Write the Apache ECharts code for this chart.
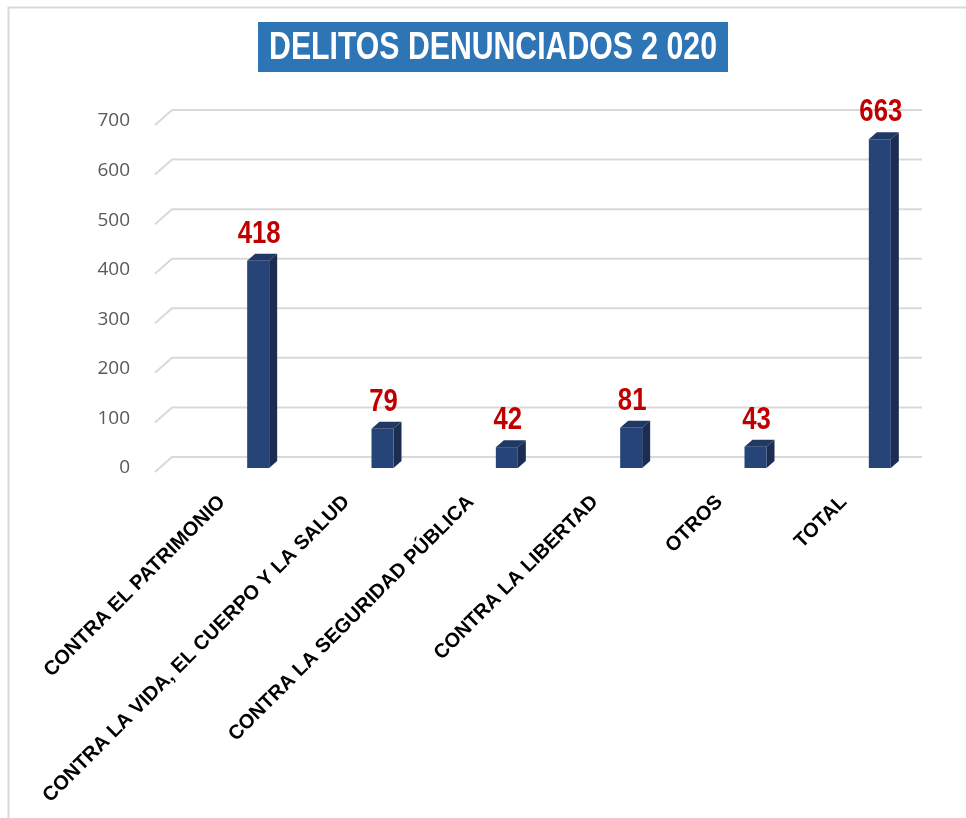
<!DOCTYPE html>
<html>
<head>
<meta charset="utf-8">
<title>Delitos denunciados 2 020</title>
<script src="https://cdn.jsdelivr.net/npm/echarts@6/dist/echarts.min.js"></script>
<style>
    html, body { margin: 0; padding: 0; background: #fff; }
    #chart { width: 966px; height: 818px; }
</style>
</head>
<body>
<div id="chart"></div>
<script>
var categories = [
    'CONTRA EL PATRIMONIO',
    'CONTRA LA VIDA, EL CUERPO Y LA SALUD',
    'CONTRA LA SEGURIDAD PÚBLICA',
    'CONTRA LA LIBERTAD',
    'OTROS',
    'TOTAL'
];
var values = [418, 79, 42, 81, 43, 663];
var yTicks = [0, 100, 200, 300, 400, 500, 600, 700];

var arial = '"Liberation Sans", Arial, sans-serif';

var chart = echarts.init(document.getElementById('chart'));

// 3d looking bar: front face, side face, top face + value on top
function renderBar(params, api) {
    var base = api.coord([api.value(0), 0]);
    var top = api.coord([api.value(0), api.value(1)]);
    var w = 22, dx = 8, dy = 7;
    var x0 = base[0] - w / 2, x1 = base[0] + w / 2;
    var yb = base[1], yt = top[1];
    return {
        type: 'group',
        children: [
            {
                type: 'polygon',
                shape: { points: [[x1, yt], [x1 + dx, yt - dy], [x1 + dx, yb - dy], [x1, yb]] },
                style: { fill: '#1b2d50' }
            },
            {
                type: 'polygon',
                shape: { points: [[x0, yt], [x0 + dx, yt - dy], [x1 + dx, yt - dy], [x1, yt]] },
                style: { fill: '#1f3864' }
            },
            {
                type: 'rect',
                shape: { x: x0, y: yt, width: w, height: yb - yt },
                style: { fill: '#264478' }
            },
            {
                // narrow bold look: squeeze the arial glyphs
                type: 'text',
                x: base[0] + 1,
                y: yt - dy - 4,
                scaleX: 0.83,
                style: {
                    text: String(api.value(1)),
                    textAlign: 'center',
                    textVerticalAlign: 'bottom',
                    fill: '#c00000',
                    font: 'bold 31px ' + arial
                }
            }
        ]
    };
}

// floor-like gridlines with the slanted left end
function renderGridLine(params, api) {
    var cs = params.coordSys;
    var y = api.coord([0, api.value(1)])[1];
    return {
        type: 'polyline',
        shape: { points: [[cs.x - 41, y + 4], [cs.x - 24, y - 11], [cs.x + cs.width - 20, y - 11]] },
        style: { stroke: '#d9d9d9', lineWidth: 2, fill: null }
    };
}

chart.setOption({
    animation: false,
    backgroundColor: '#fff',
    graphic: [
        {
            type: 'rect',
            left: 6,
            top: 5,
            shape: { width: 1000, height: 850 },
            style: { fill: null, stroke: '#d9d9d9', lineWidth: 2 },
            silent: true
        },
        {
            // title box
            type: 'group',
            left: 258,
            top: 22,
            children: [
                {
                    type: 'rect',
                    shape: { x: 0, y: 0, width: 470, height: 50 },
                    style: { fill: '#2e75b6' }
                },
                {
                    type: 'text',
                    x: 235,
                    y: 26,
                    scaleX: 0.775,
                    style: {
                        text: 'DELITOS DENUNCIADOS 2 020',
                        textAlign: 'center',
                        textVerticalAlign: 'middle',
                        fill: '#fff',
                        font: 'bold 39px ' + arial
                    }
                }
            ]
        }
    ],
    grid: [
        { left: 196, right: 24, top: 121, bottom: 350 },
        { left: 160, right: 60, top: 121, bottom: 350 }
    ],
    xAxis: [
        {
            type: 'category',
            data: categories,
            axisLine: { show: false },
            axisTick: { show: false },
            axisLabel: { show: false }
        },
        {
            type: 'category',
            gridIndex: 1,
            data: categories,
            axisLine: { show: false },
            axisTick: { show: false },
            axisLabel: {
                interval: 0,
                rotate: 45,
                margin: 31,
                color: '#000',
                fontSize: 20,
                fontWeight: 'bold',
                fontFamily: arial
            }
        }
    ],
    yAxis: [
        {
            type: 'value',
            min: 0,
            max: 700,
            interval: 100,
            axisLine: { show: false },
            axisTick: { show: false },
            splitLine: { show: false },
            axisLabel: {
                margin: 66,
                padding: [6, 0, 0, 0],
                color: '#595959',
                fontSize: 19,
                fontFamily: '"Open Sans", "Noto Sans", sans-serif'
            }
        },
        { type: 'value', gridIndex: 1, min: 0, max: 700, show: false }
    ],
    series: [
        {
            type: 'custom',
            name: 'grid',
            silent: true,
            z: 1,
            renderItem: renderGridLine,
            data: yTicks.map(function (v) { return [0, v]; })
        },
        {
            type: 'custom',
            name: 'Delitos',
            z: 5,
            renderItem: renderBar,
            data: values.map(function (v, i) { return [i, v]; })
        }
    ]
});
</script>
</body>
</html>
